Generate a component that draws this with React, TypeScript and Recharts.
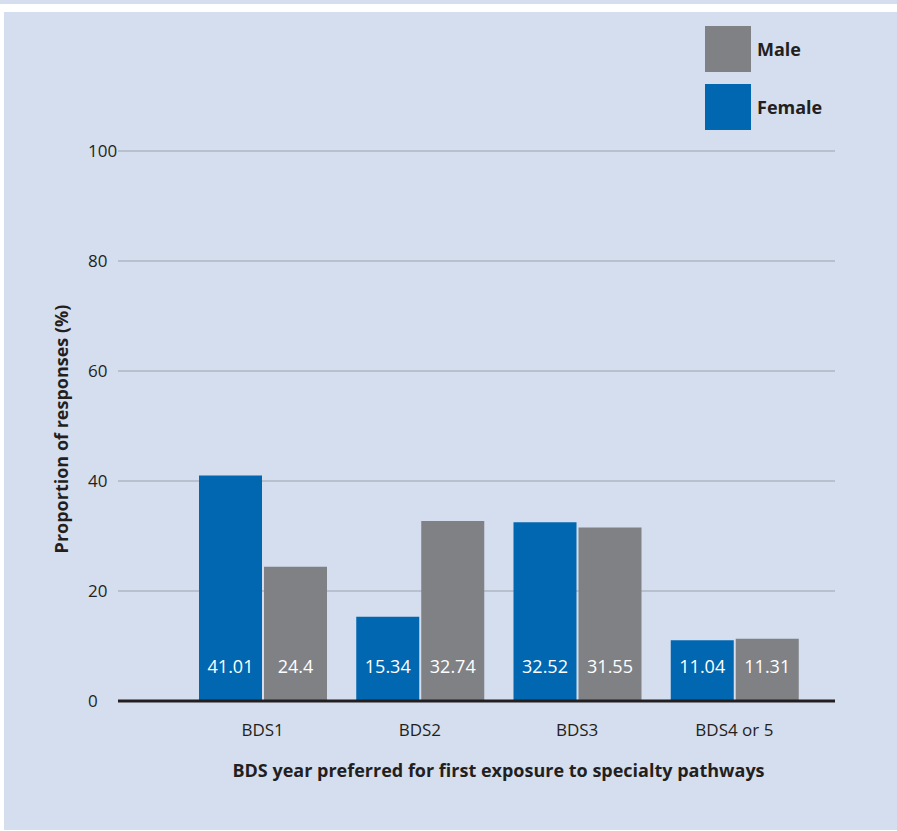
import { Bar, BarChart, CartesianGrid, LabelList, Legend, XAxis, YAxis } from "recharts";

const categories = ["BDS1", "BDS2", "BDS3", "BDS4 or 5"];
const femaleValues = [41.01, 15.34, 32.52, 11.04];
const maleValues = [24.4, 32.74, 31.55, 11.31];
const yTicks = [0, 20, 40, 60, 80, 100];

const data = categories.map((category, i) => ({
  category,
  female: femaleValues[i],
  male: maleValues[i],
}));

const FEMALE = "#0067b0";
const MALE = "#808185";
const INK = "#231f20";
const PANEL = "#d5deee";
const FONT = "'Open Sans', sans-serif";
const X_PAD = { left: 66, right: 22 };

function YTick({ x, y, payload }: any) {
  return (
    <text x={x - 30} y={y} dy={6} textAnchor="start" fontSize={17} fill={INK} fontFamily={FONT}>
      {payload.value}
    </text>
  );
}

function XTick({ x, y, payload }: any) {
  return (
    <text x={x} y={y + 35} textAnchor="middle" fontSize={17} fill={INK} fontFamily={FONT}>
      {payload.value}
    </text>
  );
}

function BarValue({ x, y, width, height, value }: any) {
  return (
    <text
      x={x + width / 2}
      y={y + height - 35}
      dy={6.5}
      textAnchor="middle"
      fontSize={18}
      fill="#ffffff"
      fontFamily={FONT}
    >
      {value}
    </text>
  );
}

function LegendBox({ payload }: any) {
  const items = [...(payload || [])].reverse();
  return (
    <div style={{ fontFamily: FONT }}>
      {items.map((item: any) => (
        <div key={item.value} style={{ display: "flex", alignItems: "center", height: 46, marginBottom: 12 }}>
          <div style={{ width: 46, height: 46, background: item.color }} />
          <span style={{ marginLeft: 6, fontSize: 18, fontWeight: 700, color: INK }}>{item.value}</span>
        </div>
      ))}
    </div>
  );
}

export default function App() {
  return (
    <div style={{ position: "absolute", left: 0, top: 0, width: 897, height: 831, background: "#ffffff" }}>
      <div style={{ position: "absolute", left: 0, top: 0, width: 897, height: 4, background: PANEL }} />
      <div style={{ position: "absolute", left: 4, top: 12, width: 893, height: 818, background: PANEL }}>
        <BarChart
          width={893}
          height={818}
          data={data}
          margin={{ top: 139, right: 62, left: 34, bottom: 39 }}
          barSize={63}
          barGap={2}
        >
          <CartesianGrid horizontal vertical={false} stroke="#9ba1ad" strokeWidth={1.2} />
          <XAxis
            dataKey="category"
            height={90}
            padding={X_PAD}
            tickSize={0}
            tickMargin={0}
            tickLine={false}
            axisLine={{ stroke: INK, strokeWidth: 3 }}
            tick={<XTick />}
            label={{
              content: ({ viewBox }: any) => (
                <text
                  x={viewBox.x + X_PAD.left + (viewBox.width - X_PAD.left - X_PAD.right) / 2}
                  y={viewBox.y + 76}
                  textAnchor="middle"
                  fontSize={18}
                  fontWeight={700}
                  fill={INK}
                  fontFamily={FONT}
                >
                  BDS year preferred for first exposure to specialty pathways
                </text>
              ),
            }}
          />
          <YAxis
            width={80}
            domain={[0, 100]}
            ticks={yTicks}
            tickSize={0}
            tickMargin={0}
            tickLine={false}
            axisLine={false}
            tick={<YTick />}
            label={{
              content: ({ viewBox }: any) => {
                const cx = viewBox.x + 24;
                const cy = viewBox.y + viewBox.height / 2 + 3;
                return (
                  <text
                    x={cx}
                    y={cy}
                    dy={6}
                    transform={`rotate(-90 ${cx} ${cy})`}
                    textAnchor="middle"
                    fontSize={18}
                    fontWeight={700}
                    fill={INK}
                    fontFamily={FONT}
                  >
                    Proportion of responses (%)
                  </text>
                );
              },
            }}
          />
          <Legend
            content={<LegendBox />}
            layout="vertical"
            verticalAlign="middle"
            align="center"
            wrapperStyle={{ position: "absolute", left: 701, top: 14, width: 150 }}
          />
          <Bar dataKey="female" name="Female" fill={FEMALE} isAnimationActive={false}>
            <LabelList dataKey="female" content={<BarValue />} />
          </Bar>
          <Bar dataKey="male" name="Male" fill={MALE} isAnimationActive={false}>
            <LabelList dataKey="male" content={<BarValue />} />
          </Bar>
        </BarChart>
      </div>
    </div>
  );
}
